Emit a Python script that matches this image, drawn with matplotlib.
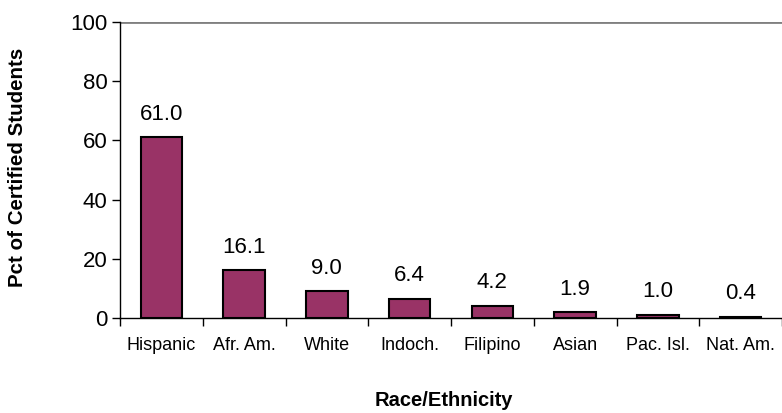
import numpy as np
import matplotlib
matplotlib.use("Agg")
import matplotlib.pyplot as plt

# race/ethnicity breakdown of certified students
categories = ["Hispanic", "Afr. Am.", "White", "Indoch.", "Filipino", "Asian", "Pac. Isl.", "Nat. Am."]
pct_values = [61.0, 16.1, 9.0, 6.4, 4.2, 1.9, 1.0, 0.4]
y_ticks = [0, 20, 40, 60, 80, 100]

plt.rcParams["font.family"] = ["Liberation Sans", "DejaVu Sans"]

fig = plt.figure(figsize=(7.82, 4.13), dpi=100)
ax = fig.add_axes([120 / 782, 1 - 318 / 413, 662 / 782, 296 / 413])

x = np.arange(len(categories))
ax.bar(x, pct_values, width=0.5, color="#993366", edgecolor="black", linewidth=1.5, zorder=3)

for xi, v in zip(x, pct_values):
    ax.text(xi, v + 4.3, f"{v:.1f}", ha="center", va="bottom", fontsize=16)

ax.set_xlim(-0.5, len(categories) - 0.5)
ax.set_ylim(0, 100)
ax.set_yticks(y_ticks)
ax.tick_params(axis="y", labelsize=16, length=6, width=1, direction="out", pad=3)

# category labels sit between boundary ticks
ax.set_xticks(np.arange(len(categories) + 1) - 0.5)
ax.set_xticklabels([])
ax.set_xticks(x, minor=True)
ax.set_xticklabels(categories, minor=True, fontsize=13)
ax.tick_params(axis="x", which="major", length=6, width=1, direction="out")
ax.tick_params(axis="x", which="minor", length=0, pad=14)

ax.axhline(100, color="#808080", linewidth=2, zorder=2)
for side in ["top", "right"]:
    ax.spines[side].set_visible(False)
ax.spines["left"].set_linewidth(1)
ax.spines["bottom"].set_linewidth(1)

ax.set_ylabel("Pct of Certified Students", fontsize=14.8, fontweight="bold", va="center")
ax.set_xlabel("Race/Ethnicity", fontsize=14.5, fontweight="bold", va="center")
ax.yaxis.set_label_coords(-(120 - 18) / 662, (318 - 167) / 296)
ax.xaxis.set_label_coords((444 - 120) / 662, -(400 - 318) / 296)

fig.savefig("out.png", dpi=100)
